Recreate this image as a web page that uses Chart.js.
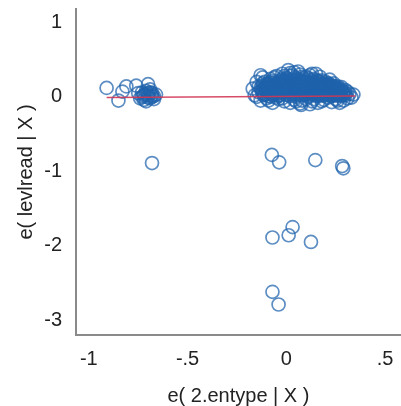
<!DOCTYPE html>
<html>
<head>
<meta charset="utf-8">
<script src="https://cdn.jsdelivr.net/npm/chart.js@4/dist/chart.umd.min.js"></script>
<style>
  html, body { margin: 0; padding: 0; background: #fff; overflow: hidden; }
  #wrap { width: 401px; height: 406px; overflow: hidden; }
</style>
</head>
<body>
<div id="wrap"><canvas id="plotCanvas" width="409" height="416"></canvas></div>
<script>
// main cluster near 0
const mainX = [-0.17, -0.16, -0.15, -0.14, -0.13, -0.12, -0.12, -0.11, -0.10, -0.10, -0.09, -0.09, -0.08, -0.08, -0.07, -0.07,
  -0.06, -0.06, -0.05, -0.05, -0.04, -0.04, -0.03, -0.03, -0.02, -0.02, -0.01, -0.01, 0.00, 0.00, 0.01, 0.01,
  0.02, 0.02, 0.03, 0.03, 0.04, 0.04, 0.05, 0.05, 0.06, 0.06, 0.07, 0.07, 0.08, 0.08, 0.09, 0.09,
  0.10, 0.10, 0.11, 0.11, 0.12, 0.12, 0.13, 0.13, 0.14, 0.14, 0.15, 0.15, 0.16, 0.16, 0.17, 0.17,
  0.18, 0.18, 0.19, 0.19, 0.20, 0.20, 0.21, 0.21, 0.22, 0.22, 0.23, 0.23, 0.24, 0.24, 0.25, 0.25,
  0.26, 0.26, 0.27, 0.27, 0.28, 0.28, 0.29, 0.29, 0.30, 0.30, 0.31, 0.31, 0.32, 0.33, 0.34,
  -0.08, -0.05, -0.02, 0.00, 0.02, 0.04, 0.06, 0.08, 0.10, 0.12, 0.14, 0.16, 0.18, 0.20, -0.13, -0.11,
  0.03, 0.05, 0.07, 0.09, 0.11, 0.13, 0.15, 0.17, 0.19, 0.21, 0.23, 0.25, -0.03, -0.06, 0.01, 0.03,
  0.15, 0.08, 0.02, 0.12, -0.15, 0.04, -0.01, 0.22, -0.13, 0.075, 0.13];
const mainY = [0.11, 0.02, 0.20, 0.06, -0.05, 0.15, 0.26, 0.04, 0.10, -0.02, 0.18, 0.07, 0.24, 0.00, 0.12, -0.08,
  0.19, 0.05, 0.28, 0.09, -0.03, 0.15, 0.22, 0.03, 0.11, 0.31, -0.06, 0.17, 0.06, 0.25, 0.13, 0.36,
  0.01, 0.20, 0.09, 0.29, -0.04, 0.15, 0.24, 0.05, 0.34, 0.11, -0.09, 0.19, 0.02, 0.27, 0.13, 0.07,
  0.22, -0.03, 0.16, 0.04, 0.29, 0.10, -0.06, 0.19, 0.07, 0.24, 0.01, 0.14, 0.21, -0.08, 0.09, 0.27,
  0.03, 0.16, 0.11, -0.04, 0.20, 0.06, 0.13, -0.01, 0.17, 0.08, -0.07, 0.12, 0.03, 0.18, 0.09, -0.03,
  0.14, 0.05, -0.08, 0.10, 0.01, 0.13, 0.06, -0.05, 0.09, 0.02, -0.02, 0.07, 0.04, -0.01, 0.03,
  0.09, 0.14, 0.05, 0.16, 0.10, 0.21, 0.03, 0.14, 0.09, 0.18, 0.12, 0.05, 0.22, 0.12, 0.12, 0.20,
  0.17, 0.13, 0.08, 0.20, 0.25, 0.03, 0.09, 0.15, 0.06, 0.09, 0.05, 0.13, 0.10, 0.12, 0.02, 0.23,
  0.31, -0.05, -0.08, -0.10, 0.00, 0.33, 0.28, 0.23, 0.29, -0.11, 0.31];

// extra points inside the dense part of the cluster
const innerX = [-0.14, -0.12, -0.10, -0.09, -0.07, -0.06, -0.05, -0.04, -0.03, -0.02, -0.01, 0.00, 0.01, 0.02, 0.03, 0.04,
  0.05, 0.06, 0.07, 0.08, 0.09, 0.10, 0.11, 0.12, 0.13, 0.14, 0.15, 0.16, 0.17, 0.18, 0.19, 0.20,
  0.21, 0.22, 0.23, 0.24, 0.25, 0.26, 0.27, 0.28, 0.29, 0.30, -0.11, -0.08, -0.04, 0.00, 0.04, 0.08,
  0.12, 0.16, 0.20, 0.24, -0.06, 0.02, 0.07, 0.10, -0.09, -0.02, 0.05, 0.14, 0.18, 0.26,
  -0.125, -0.095, -0.065, -0.035, -0.005, 0.025, 0.055, 0.085, 0.115, 0.145, 0.175, 0.205, 0.235, 0.265,
  -0.115, -0.085, -0.055, -0.025, 0.005, 0.035, 0.065, 0.095, 0.125, 0.155, 0.185, 0.215, 0.245, 0.275,
  -0.105, -0.075, -0.045, -0.015, 0.015, 0.045, 0.075, 0.105, 0.135, 0.165, 0.195, 0.225, 0.255, 0.285,
  -0.10, -0.07, -0.04, -0.01, 0.02, 0.05, 0.08, 0.11, 0.14, 0.17, 0.20, 0.23, 0.26, 0.29];
const innerY = [0.14, 0.05, 0.17, 0.01, 0.21, 0.08, -0.01, 0.20, 0.15, 0.24, 0.09, 0.20, 0.06, 0.28, 0.04, 0.10,
  0.18, 0.22, 0.13, 0.06, 0.25, 0.14, 0.00, 0.06, 0.22, 0.16, 0.04, 0.12, 0.01, 0.09, 0.17, 0.02,
  0.18, 0.12, 0.09, 0.07, 0.02, 0.10, 0.04, 0.08, 0.03, 0.05, 0.09, 0.15, 0.06, 0.11, 0.13, 0.10,
  0.14, 0.18, 0.09, 0.12, 0.26, 0.32, 0.30, 0.27, -0.05, -0.02, -0.06, -0.03, -0.06, -0.05,
  0.08, 0.12, 0.04, 0.18, 0.14, 0.19, 0.08, 0.20, 0.11, 0.07, 0.13, 0.15, 0.06, 0.07,
  0.02, 0.06, 0.16, 0.07, 0.23, 0.12, 0.16, 0.03, 0.17, 0.22, 0.04, 0.05, 0.14, 0.11,
  0.13, 0.03, 0.11, 0.13, 0.07, 0.26, 0.21, 0.09, 0.13, 0.03, 0.12, 0.10, 0.09, 0.04,
  0.07, 0.16, 0.02, 0.21, 0.15, 0.00, 0.11, 0.19, 0.09, 0.12, 0.15, 0.01, 0.08, 0.06];

// more of the core, where the circles pile up
const coreX = [-0.12, -0.11, -0.10, -0.09, -0.08, -0.07, -0.06, -0.05, -0.04, -0.03, -0.02, -0.01, 0.00, 0.01, 0.02, 0.03,
  0.04, 0.05, 0.06, 0.07, 0.08, 0.09, 0.10, 0.11, 0.12, 0.13, 0.14, 0.15, 0.16, 0.17, 0.18, 0.19,
  0.20, 0.21, 0.22, 0.23, 0.24, 0.25, 0.26, 0.27, -0.12, -0.10, -0.08, -0.06, -0.04, -0.02, 0.00, 0.02,
  0.04, 0.06, 0.08, 0.10, 0.12, 0.14, 0.16, 0.18, 0.20, 0.22, 0.24, 0.26, -0.11, -0.09, -0.07, -0.05,
  -0.03, -0.01, 0.01, 0.03, 0.05, 0.07, 0.09, 0.11, 0.13, 0.15, 0.17, 0.19, 0.21, 0.23, 0.25, 0.27];
const coreY = [0.10, 0.03, 0.13, 0.06, 0.19, 0.02, 0.15, 0.12, 0.01, 0.19, 0.08, 0.13, 0.03, 0.18, 0.13, 0.07,
  0.22, 0.02, 0.15, 0.04, 0.19, 0.10, 0.05, 0.13, 0.02, 0.15, 0.03, 0.18, 0.08, 0.20, 0.12, 0.02,
  0.15, 0.05, 0.02, 0.15, 0.10, 0.06, 0.02, 0.05, 0.18, 0.07, 0.04, 0.16, 0.10, 0.17, 0.09, 0.04,
  0.17, 0.08, 0.20, 0.17, 0.08, 0.20, 0.02, 0.06, 0.17, 0.14, 0.05, 0.08, 0.13, 0.09, 0.09, 0.04,
  0.06, 0.22, 0.09, 0.14, 0.16, 0.23, 0.03, 0.08, 0.11, 0.17, 0.06, 0.14, 0.03, 0.01, 0.11, 0.02];

// cluster on the left
const leftX = [-0.91, -0.85, -0.83, -0.81, -0.76, -0.70, -0.75, -0.73, -0.72, -0.71, -0.70, -0.69, -0.68, -0.67,
  -0.73, -0.71, -0.66, -0.74, -0.69, -0.72, -0.70, -0.68, -0.71, -0.69, -0.67, -0.72, -0.70, -0.68];
const leftY = [0.12, -0.05, 0.07, 0.14, 0.15, 0.17, 0.05, 0.00, -0.04, 0.08, 0.02, -0.02, 0.05, 0.01,
  0.06, -0.06, 0.03, -0.02, 0.10, 0.03, -0.01, 0.00, 0.04, 0.06, -0.03, 0.01, 0.05, 0.02];

// outliers below
const outX = [-0.073, -0.036, 0.147, 0.283, 0.289, -0.07, 0.032, 0.012, 0.125, -0.07, -0.039, -0.68];
const outY = [-0.78, -0.88, -0.85, -0.93, -0.96, -1.89, -1.75, -1.86, -1.95, -2.62, -2.79, -0.89];

// fitted line
const fitX = [-0.91, 0.35];
const fitY = [-0.01, 0.01];

const xTicks = [-1, -0.5, 0, 0.5];
const yTicks = [-3, -2, -1, 0, 1];

function toPoints(xs, ys) {
  return xs.map((x, i) => ({ x: x, y: ys[i] }));
}

const points = toPoints(leftX, leftY).concat(
  toPoints(mainX, mainY), toPoints(innerX, innerY), toPoints(coreX, coreY), toPoints(outX, outY));
const font = { family: "'Liberation Sans', Arial, sans-serif", size: 20 };

const ctx = document.getElementById("plotCanvas").getContext("2d");
new Chart(ctx, {
  type: "scatter",
  data: {
    datasets: [
      {
        data: toPoints(fitX, fitY),
        type: "line",
        showLine: true,
        borderColor: "rgba(210, 55, 85, 0.9)",
        borderWidth: 1.5,
        pointRadius: 0,
        order: 0,
      },
      {
        data: points,
        pointStyle: "circle",
        pointRadius: 6.5,
        pointBorderWidth: 1.7,
        pointBackgroundColor: "rgba(0,0,0,0)",
        pointBorderColor: "rgba(30, 98, 172, 0.72)",
        order: 1,
      },
    ],
  },
  options: {
    responsive: false,
    animation: false,
    layout: { padding: { left: 6, right: 0, top: 9, bottom: 0 } },
    plugins: { legend: { display: false }, tooltip: { enabled: false } },
    scales: {
      x: {
        type: "linear",
        min: -1.065,
        max: 0.58,
        grid: { display: false },
        border: { display: true, color: "#8a8a8a", width: 2 },
        afterBuildTicks: (axis) => { axis.ticks = xTicks.map((v) => ({ value: v })); },
        afterFit: (axis) => {
          axis.height = 416 - 335;
          axis.paddingLeft = 0;
          axis.paddingRight = 0;
        },
        ticks: {
          font: font,
          color: "#222",
          padding: 4,
          maxRotation: 0,
          callback: (v) => (v === 0 ? "0" : String(v).replace("0.", ".")),
        },
        title: { display: true, text: "e( 2.entype | X )", font: font, color: "#222", padding: { top: 0, bottom: 8 } },
      },
      y: {
        type: "linear",
        min: -3.2,
        max: 1.18,
        grid: { display: false },
        border: { display: true, color: "#8a8a8a", width: 2 },
        afterBuildTicks: (axis) => { axis.ticks = yTicks.map((v) => ({ value: v })); },
        afterFit: (axis) => {
          axis.width = 70;
          axis.paddingTop = 0;
          axis.paddingBottom = 0;
        },
        ticks: { font: font, color: "#222", padding: 6 },
        title: { display: true, text: "e( levlread | X )", font: font, color: "#222", padding: { top: 8, bottom: 0 } },
      },
    },
  },
});
</script>
</body>
</html>
